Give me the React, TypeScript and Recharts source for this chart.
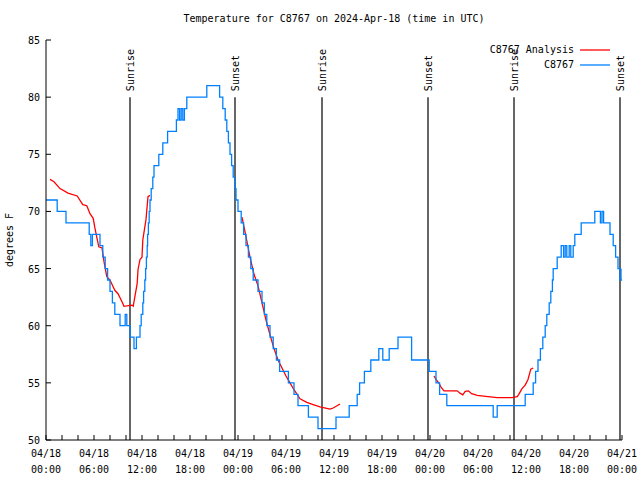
import { Legend, Line, LineChart, ReferenceLine, XAxis, YAxis } from "recharts";

// hours since 2024-04-18 00:00 UTC
const stationHours = [
  0, 1.4, 2.5, 5.4, 5.6, 5.8, 6.75, 7.1, 7.4, 7.7, 8.0, 8.3, 8.6, 9.25, 9.9, 10.1, 10.5, 11.0, 11.3,
  11.75, 11.9, 12.1, 12.2, 12.35, 12.45, 12.55, 12.65, 12.7, 12.8, 12.9, 13.0, 13.15, 13.35, 13.5,
  14.1, 14.6, 15.2, 16.3, 16.5, 16.7, 16.9, 17.1, 17.3, 17.6, 20.1, 21.7, 22.1, 22.4, 22.6, 22.8,
  23.0, 23.2, 23.4, 23.6, 23.75, 24.0, 24.4, 24.7, 25.0, 25.3, 25.6, 25.9, 26.5, 27.0, 27.3, 27.6,
  28.0, 28.4, 28.8, 29.2, 30.3, 31.0, 31.5, 32.8, 34.0, 36.25, 37.9, 38.9, 39.2, 39.8, 40.6, 41.6,
  42.1, 42.9, 44.0, 45.7, 47.9, 48.75, 49.2, 50.1, 55.9, 56.4, 59.9, 60.9, 61.2, 61.5, 61.8, 62.1,
  62.4, 62.6, 62.9, 63.1, 63.3, 63.4, 63.9, 64.4, 64.7, 64.9, 65.1, 65.4, 65.6, 65.9, 66.1, 66.9,
  68.6, 69.3, 69.5, 69.7, 70.5, 70.9, 71.2, 71.5, 71.75, 72
];
const stationTemps = [
  71, 70, 69, 68, 67, 68, 67, 66, 65, 64, 63, 62, 61, 60, 61, 60, 59, 58, 59,
  60, 61, 62, 63, 64, 65, 66, 67, 68, 69, 70, 71, 72, 73, 74,
  75, 76, 77, 78, 79, 78, 79, 78, 79, 80, 81, 80, 79, 78, 77, 76,
  75, 74, 73, 72, 71, 70, 69, 68, 67, 66, 65, 64, 63, 62, 61, 60,
  59, 58, 57, 56, 55, 54, 53, 52, 51, 52, 53, 54, 55, 56, 57, 58,
  57, 58, 59, 57, 56, 55, 54, 53, 52, 53, 54, 55, 56, 57, 58, 59,
  60, 61, 62, 63, 64, 65, 66, 67, 66, 67, 66, 67, 66, 67, 68, 69,
  70, 69, 70, 69, 68, 67, 66, 65, 64, 65
];

const analysisHours = [
  0.5, 1.0, 1.75, 2.75, 3.9, 4.6, 5.1, 5.5, 5.9, 6.1, 6.3, 6.6, 7.0, 7.25, 7.6, 8.0, 8.6, 9.0, 9.5,
  9.75, 10.75, 10.9, 11.1, 11.4, 11.5, 11.75, 12.0, 12.1, 12.5, 12.75, 13.0, 18,
  24.5, 25.0, 25.5, 26.0, 26.5, 27.0, 27.5, 28.0, 28.5, 29.0, 29.5, 30.0, 30.5, 31.0, 31.75, 32.6,
  33.4, 34.25, 35.5, 35.9, 36.75, 42,
  48.5, 48.75, 49.1, 49.4, 49.75, 51.4, 51.75, 52.1, 52.4, 52.8, 53.2, 53.9, 55.25, 56.4, 58.25,
  58.9, 59.1, 59.5, 59.9, 60.25, 60.6, 60.9
];
const analysisTemps = [
  72.8, 72.6, 72.0, 71.6, 71.35, 70.6, 70.5, 69.8, 69.4, 68.6, 67.9, 66.9, 66.8, 65.6, 64.3, 64.0, 63.1, 62.8, 62.1,
  61.7, 61.8, 61.7, 62.5, 63.7, 64.9, 65.8, 66.0, 67.5, 69.3, 71.3, 71.4, null,
  69.5, 67.8, 66.0, 64.5, 63.5, 62.0, 60.5, 59.2, 58.0, 57.0, 56.3, 55.6, 55.0, 54.4, 53.6, 53.3,
  53.1, 52.9, 52.7, 52.8, 53.15, null,
  55.6, 55.3, 55.0, 54.6, 54.3, 54.3, 54.1, 53.95, 54.25, 54.3, 54.05, 53.9, 53.8, 53.7, 53.7,
  53.8, 54.0, 54.5, 54.8, 55.3, 56.2, 56.3
];

const sunHours = [10.5, 23.625, 34.5, 47.75, 58.5, 71.75];
const sunLabels = ["Sunrise", "Sunset", "Sunrise", "Sunset", "Sunrise", "Sunset"];

const xTicks = [0, 2, 4, 6, 8, 10, 12, 14, 16, 18, 20, 22, 24, 26, 28, 30, 32, 34, 36, 38, 40, 42, 44, 46, 48, 50, 52, 54, 56, 58, 60, 62, 64, 66, 68, 70, 72];
const majorHours = [0, 6, 12, 18, 24, 30, 36, 42, 48, 54, 60, 66, 72];
const majorDates = ["04/18", "04/18", "04/18", "04/18", "04/19", "04/19", "04/19", "04/19", "04/20", "04/20", "04/20", "04/20", "04/21"];
const majorTimes = ["00:00", "06:00", "12:00", "18:00", "00:00", "06:00", "12:00", "18:00", "00:00", "06:00", "12:00", "18:00", "00:00"];
const yTicks = [50, 55, 60, 65, 70, 75, 80, 85];

const stationData = stationHours.map((h, i) => ({ h, t: stationTemps[i] }));
const analysisData = analysisHours.map((h, i) => ({ h, t: analysisTemps[i] }));

const FONT = "'DejaVu Sans Mono', 'Liberation Mono', monospace";
const RED = "#ff0000";
const BLUE = "#0080ff";

function BottomTick({ x, y, payload }: any) {
  const idx = majorHours.indexOf(payload.value);
  return (
    <g>
      <line x1={x} y1={y} x2={x} y2={y - 5} stroke="#000" />
      {idx >= 0 && (
        <text x={x} textAnchor="middle" fontFamily={FONT} fontSize={10} fill="#000">
          <tspan x={x} y={y + 17}>{majorDates[idx]}</tspan>
          <tspan x={x} y={y + 33}>{majorTimes[idx]}</tspan>
        </text>
      )}
    </g>
  );
}

function TopTick({ x, y }: any) {
  return <line x1={x} y1={y} x2={x} y2={y + 5} stroke="#000" />;
}

function LeftTick({ x, y, payload }: any) {
  return (
    <g>
      <line x1={x} y1={y} x2={x + 5} y2={y} stroke="#000" />
      <text x={x - 6} y={y + 4} textAnchor="end" fontFamily={FONT} fontSize={10} fill="#000">
        {payload.value}
      </text>
    </g>
  );
}

function RightTick({ x, y }: any) {
  return <line x1={x} y1={y} x2={x - 5} y2={y} stroke="#000" />;
}

function SunLabel({ viewBox, text }: any) {
  const x = viewBox?.x ?? viewBox?.x1 ?? 0;
  const y = Math.min(viewBox?.y ?? 0, viewBox?.y1 ?? Infinity, viewBox?.y2 ?? Infinity);
  const bx = x + 4;
  const by = y - 6;
  return (
    <text
      x={bx}
      y={by}
      transform={`rotate(-90 ${bx} ${by})`}
      textAnchor="start"
      fontFamily={FONT}
      fontSize={10}
      fill="#000"
    >
      {text}
    </text>
  );
}

function LegendBox() {
  const rows = [
    { name: "C8767 Analysis", color: RED },
    { name: "C8767", color: BLUE }
  ];
  return (
    <div style={{ fontFamily: FONT, fontSize: 10, color: "#000" }}>
      {rows.map((r) => (
        <div key={r.name} style={{ display: "flex", justifyContent: "flex-end", alignItems: "center", height: 15 }}>
          <span style={{ whiteSpace: "pre" }}>{r.name}</span>
          <svg width={40} height={4} style={{ marginLeft: 6 }}>
            <line x1={0} y1={2} x2={30} y2={2} stroke={r.color} strokeWidth={1.3} />
          </svg>
        </div>
      ))}
    </div>
  );
}

export default function App() {
  return (
    <div style={{ position: "absolute", left: 0, top: 0, width: 640, height: 480, background: "#fff" }}>
      <div
        style={{
          position: "absolute",
          left: 0,
          width: 668,
          top: 13,
          textAlign: "center",
          fontFamily: FONT,
          fontSize: 10,
          lineHeight: "12px",
          color: "#000"
        }}
      >
        Temperature for C8767 on 2024-Apr-18 (time in UTC)
      </div>
      <div
        style={{
          position: "absolute",
          left: 10,
          top: 240,
          transform: "translate(-50%, -50%) rotate(-90deg)",
          fontFamily: FONT,
          fontSize: 10,
          lineHeight: "12px",
          whiteSpace: "nowrap",
          color: "#000"
        }}
      >
        degrees F
      </div>
      <LineChart width={640} height={480} margin={{ top: 40, right: 18, bottom: 0, left: 0 }}>
        <XAxis
          xAxisId="main"
          dataKey="h"
          type="number"
          domain={[0, 72]}
          ticks={xTicks}
          interval={0}
          height={40}
          tickSize={0}
          tickMargin={0}
          tickLine={false}
          axisLine={{ stroke: "#000" }}
          tick={(p: any) => <BottomTick {...p} />}
          allowDataOverflow
        />
        <XAxis
          xAxisId="top"
          orientation="top"
          dataKey="h"
          type="number"
          domain={[0, 72]}
          ticks={xTicks}
          interval={0}
          height={0}
          tickSize={0}
          tickMargin={0}
          tickLine={false}
          axisLine={{ stroke: "#000" }}
          tick={(p: any) => <TopTick {...p} />}
          allowDataOverflow
        />
        <YAxis
          yAxisId="main"
          type="number"
          domain={[50, 85]}
          ticks={yTicks}
          interval={0}
          width={46}
          tickSize={0}
          tickMargin={0}
          tickLine={false}
          axisLine={{ stroke: "#000" }}
          tick={(p: any) => <LeftTick {...p} />}
          allowDataOverflow
        />
        <YAxis
          yAxisId="right"
          orientation="right"
          type="number"
          domain={[50, 85]}
          ticks={yTicks}
          interval={0}
          width={0}
          tickSize={0}
          tickMargin={0}
          tickLine={false}
          axisLine={{ stroke: "#000" }}
          tick={(p: any) => <RightTick {...p} />}
          allowDataOverflow
        />
        {sunHours.map((h, i) => (
          <ReferenceLine
            key={i}
            xAxisId="main"
            yAxisId="main"
            segment={[
              { x: h, y: 50 },
              { x: h, y: 80 }
            ]}
            stroke="#000"
            strokeWidth={1.2}
            label={(p: any) => <SunLabel {...p} text={sunLabels[i]} />}
          />
        ))}
        <Line
          xAxisId="main"
          yAxisId="main"
          data={analysisData}
          dataKey="t"
          name="C8767 Analysis"
          type="linear"
          stroke={RED}
          strokeWidth={1.3}
          dot={false}
          connectNulls={false}
          isAnimationActive={false}
        />
        <Line
          xAxisId="main"
          yAxisId="main"
          data={stationData}
          dataKey="t"
          name="C8767"
          type="stepAfter"
          stroke={BLUE}
          strokeWidth={1.3}
          dot={false}
          isAnimationActive={false}
        />
        <Legend
          layout="vertical"
          align="center"
          verticalAlign="middle"
          wrapperStyle={{ top: 42, left: 380, width: 240 }}
          content={() => <LegendBox />}
        />
      </LineChart>
    </div>
  );
}
